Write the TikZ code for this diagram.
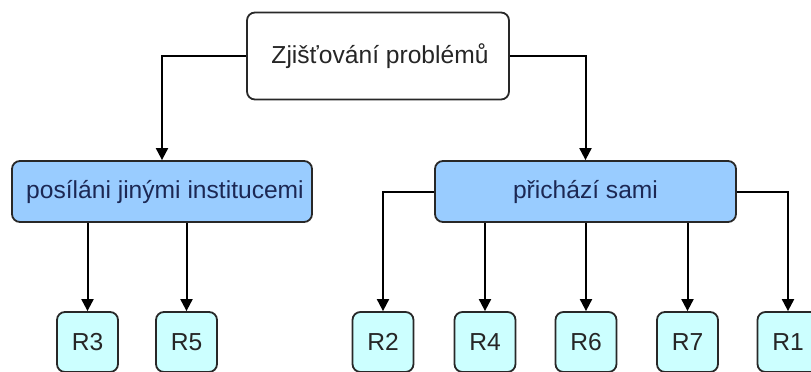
\documentclass[tikz,border=0pt]{standalone}
\usepackage{fontspec}
\setmainfont{Liberation Sans}
\usetikzlibrary{arrows.meta}
\definecolor{midfill}{RGB}{153,204,255}
\definecolor{leaffill}{RGB}{204,255,255}
\definecolor{midtext}{RGB}{28,40,84}
\definecolor{edge}{RGB}{40,40,40}
\begin{document}
\begin{tikzpicture}[x=1pt,y=-1pt,
  base/.style={draw=edge,line width=1.8pt,rounded corners=8pt,inner sep=0pt,
    font=\fontsize{24.6}{28}\selectfont},
  topbox/.style={base,fill=white,text=black!85,minimum width=262pt,minimum height=87pt},
  midbox/.style={base,fill=midfill,text=midtext,minimum width=300pt,minimum height=61pt},
  leafbox/.style={base,fill=leaffill,text=black!85,minimum width=61pt,minimum height=60pt},
  conn/.style={line width=2pt,-{Triangle[width=12pt,length=12pt]}}]
\useasboundingbox (0,0) rectangle (811,372);
\node[topbox] (top) at (378,56) {\hspace*{4pt}Zjišťování problémů};
\node[midbox] (lm) at (162,191.5) {\hspace*{6pt}posíláni jinými institucemi};
\node[midbox,minimum width=301pt] (rm) at (585.5,191.5) {přichází sami};
\node[leafbox] (r3) at (87.5,342) {R3};
\node[leafbox] (r5) at (186.5,342) {R5};
\node[leafbox] (r2) at (383,342) {R2};
\node[leafbox] (r4) at (485,342) {R4};
\node[leafbox] (r6) at (586,342) {R6};
\node[leafbox] (r7) at (687.5,342) {R7};
\node[leafbox] (r1) at (788,342) {R1};
\draw[conn] (top.west) -| (lm.north);
\draw[conn] (top.east) -| (rm.north);
\draw[conn] (lm.south -| r3.north) -- (r3.north);
\draw[conn] (lm.south -| r5.north) -- (r5.north);
\draw[conn] (rm.west) -| (r2.north);
\draw[conn] (rm.south -| r4.north) -- (r4.north);
\draw[conn] (rm.south -| r6.north) -- (r6.north);
\draw[conn] (rm.south -| r7.north) -- (r7.north);
\draw[conn] (rm.east) -| (r1.north);
\end{tikzpicture}
\end{document}
